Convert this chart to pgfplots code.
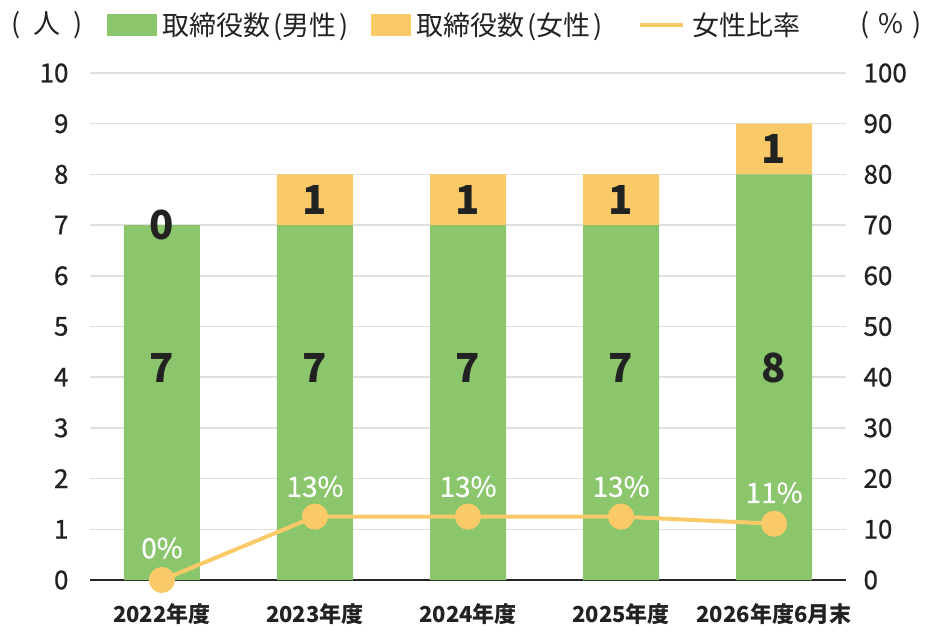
\documentclass[border=0pt]{standalone}
\usepackage{fontspec}
\setmainfont{Noto Sans CJK JP}
\usepackage{pgfplots}
\pgfplotsset{compat=1.18}
\definecolor{cgreen}{HTML}{8BC66D}
\definecolor{cyellow}{HTML}{FACA68}
\definecolor{ctext}{HTML}{222222}
\definecolor{cgrid}{HTML}{E0E0E0}
\tikzset{barlab/.style={font=\fontsize{40}{44}\selectfont\bfseries, text=ctext},
  pctlab/.style={font=\fontsize{28}{32}\selectfont\addfontfeature{FakeBold=0.6}, text=white}}
\pgfplotstableread{
x male female
0 7 0
1 7 1
2 7 1
3 7 1
4 8 1
}\bars
\pgfplotstableread{
x ratio
0 0
1 12.5
2 12.5
3 12.5
4 11.1
}\ratio
\begin{document}
\begin{tikzpicture}
\begin{axis}[
  name=ax1,
  scale only axis, width=756pt, height=507pt,
  xmin=-0.47, xmax=4.47, ymin=0, ymax=10,
  ybar stacked, bar width=76pt,
  axis x line*=bottom, axis y line*=left,
  y axis line style={draw=none},
  x axis line style={line width=2pt, color=black!85},
  major tick length=0pt,
  ytick={0,1,...,10},
  xtick={0,1,2,3,4},
  xticklabels={2022年度,2023年度,2024年度,2025年度,2026年度6月末},
  ymajorgrids, grid style={cgrid, line width=1.5pt},
  /pgf/number format/assume math mode=true,
  tick label style={font=\fontsize{26}{30}\selectfont\addfontfeature{FakeBold=0.8}, color=ctext},
  yticklabel style={xshift=-18pt},
  xticklabel style={font=\fontsize{22}{26}\selectfont\bfseries, yshift=-20pt},
  clip=false,
]
\addplot[fill=cgreen, draw=none] table[x=x, y=male] {\bars};
\addplot[fill=cyellow, draw=none] table[x=x, y=female] {\bars};
\end{axis}
\begin{axis}[
  scale only axis, width=756pt, height=507pt,
  xmin=-0.47, xmax=4.47, ymin=0, ymax=100,
  axis x line=none, axis y line*=right,
  y axis line style={draw=none},
  major tick length=0pt,
  ytick={0,10,...,100},
  /pgf/number format/assume math mode=true,
  tick label style={font=\fontsize{26}{30}\selectfont\addfontfeature{FakeBold=0.8}, color=ctext},
  yticklabel style={xshift=14pt},
  clip=false,
  legend columns=-1,
  legend style={at={(rel axis cs:0.0225,1.095)}, anchor=west, draw=none, fill=none,
    font=\fontsize{27}{30}\selectfont, text=ctext, inner sep=0pt,
    /tikz/every odd column/.append style={column sep=3pt},
    /tikz/every even column/.append style={column sep=21pt}},
]
\addlegendimage{area legend, fill=cgreen, draw=none, legend image code/.code={\fill[cgreen] (0pt,-11pt) rectangle (50pt,11pt);}}
\addlegendentry{取締役数\kern3pt(男性\kern3pt)}
\addlegendimage{area legend, fill=cyellow, draw=none, legend image code/.code={\fill[cyellow] (0pt,-11pt) rectangle (40pt,11pt);}}
\addlegendentry{取締役数\kern3pt(女性\kern3pt)}
\addplot[cyellow, line width=4pt, mark=*, mark size=11pt, mark options={fill=cyellow, draw=none},
  legend image code/.code={\path (0pt,0pt) (58pt,0pt); \draw[cyellow, line width=4pt] (12pt,0pt) -- (55pt,0pt);}]
  table[x=x, y=ratio] {\ratio};
\addlegendentry{女性比率}
\node[barlab] at (axis cs:0,41.8) {7};
\node[barlab] at (axis cs:1,41.8) {7};
\node[barlab] at (axis cs:2,41.8) {7};
\node[barlab] at (axis cs:3,41.8) {7};
\node[barlab] at (axis cs:4,41.8) {8};
\node[barlab] at (axis cs:0,70) {0};
\node[barlab] at (axis cs:1,75) {1};
\node[barlab] at (axis cs:2,75) {1};
\node[barlab] at (axis cs:3,75) {1};
\node[barlab] at (axis cs:4,85) {1};
\node[pctlab] at (axis cs:0,0) [yshift=32pt] {0\%};
\node[pctlab] at (axis cs:1,12.5) [yshift=30pt] {13\%};
\node[pctlab] at (axis cs:2,12.5) [yshift=30pt] {13\%};
\node[pctlab] at (axis cs:3,12.5) [yshift=30pt] {13\%};
\node[pctlab] at (axis cs:4,11.1) [yshift=31pt] {11\%};
\node[font=\fontsize{27}{30}\selectfont, text=ctext, anchor=west, inner sep=0pt] at (rel axis cs:-0.104,1.095) {(\hspace{13pt}人\hspace{13pt})};
\node[font=\fontsize{27}{30}\selectfont, text=ctext, anchor=east, inner sep=0pt] at (rel axis cs:1.1,1.095) {(\hspace{9pt}\%\hspace{9pt})};
\end{axis}
\pgfresetboundingbox
\path[use as bounding box] ([xshift=-90pt,yshift=-60pt]ax1.south west) rectangle ([xshift=94pt,yshift=73pt]ax1.north east);
\end{tikzpicture}
\end{document}
